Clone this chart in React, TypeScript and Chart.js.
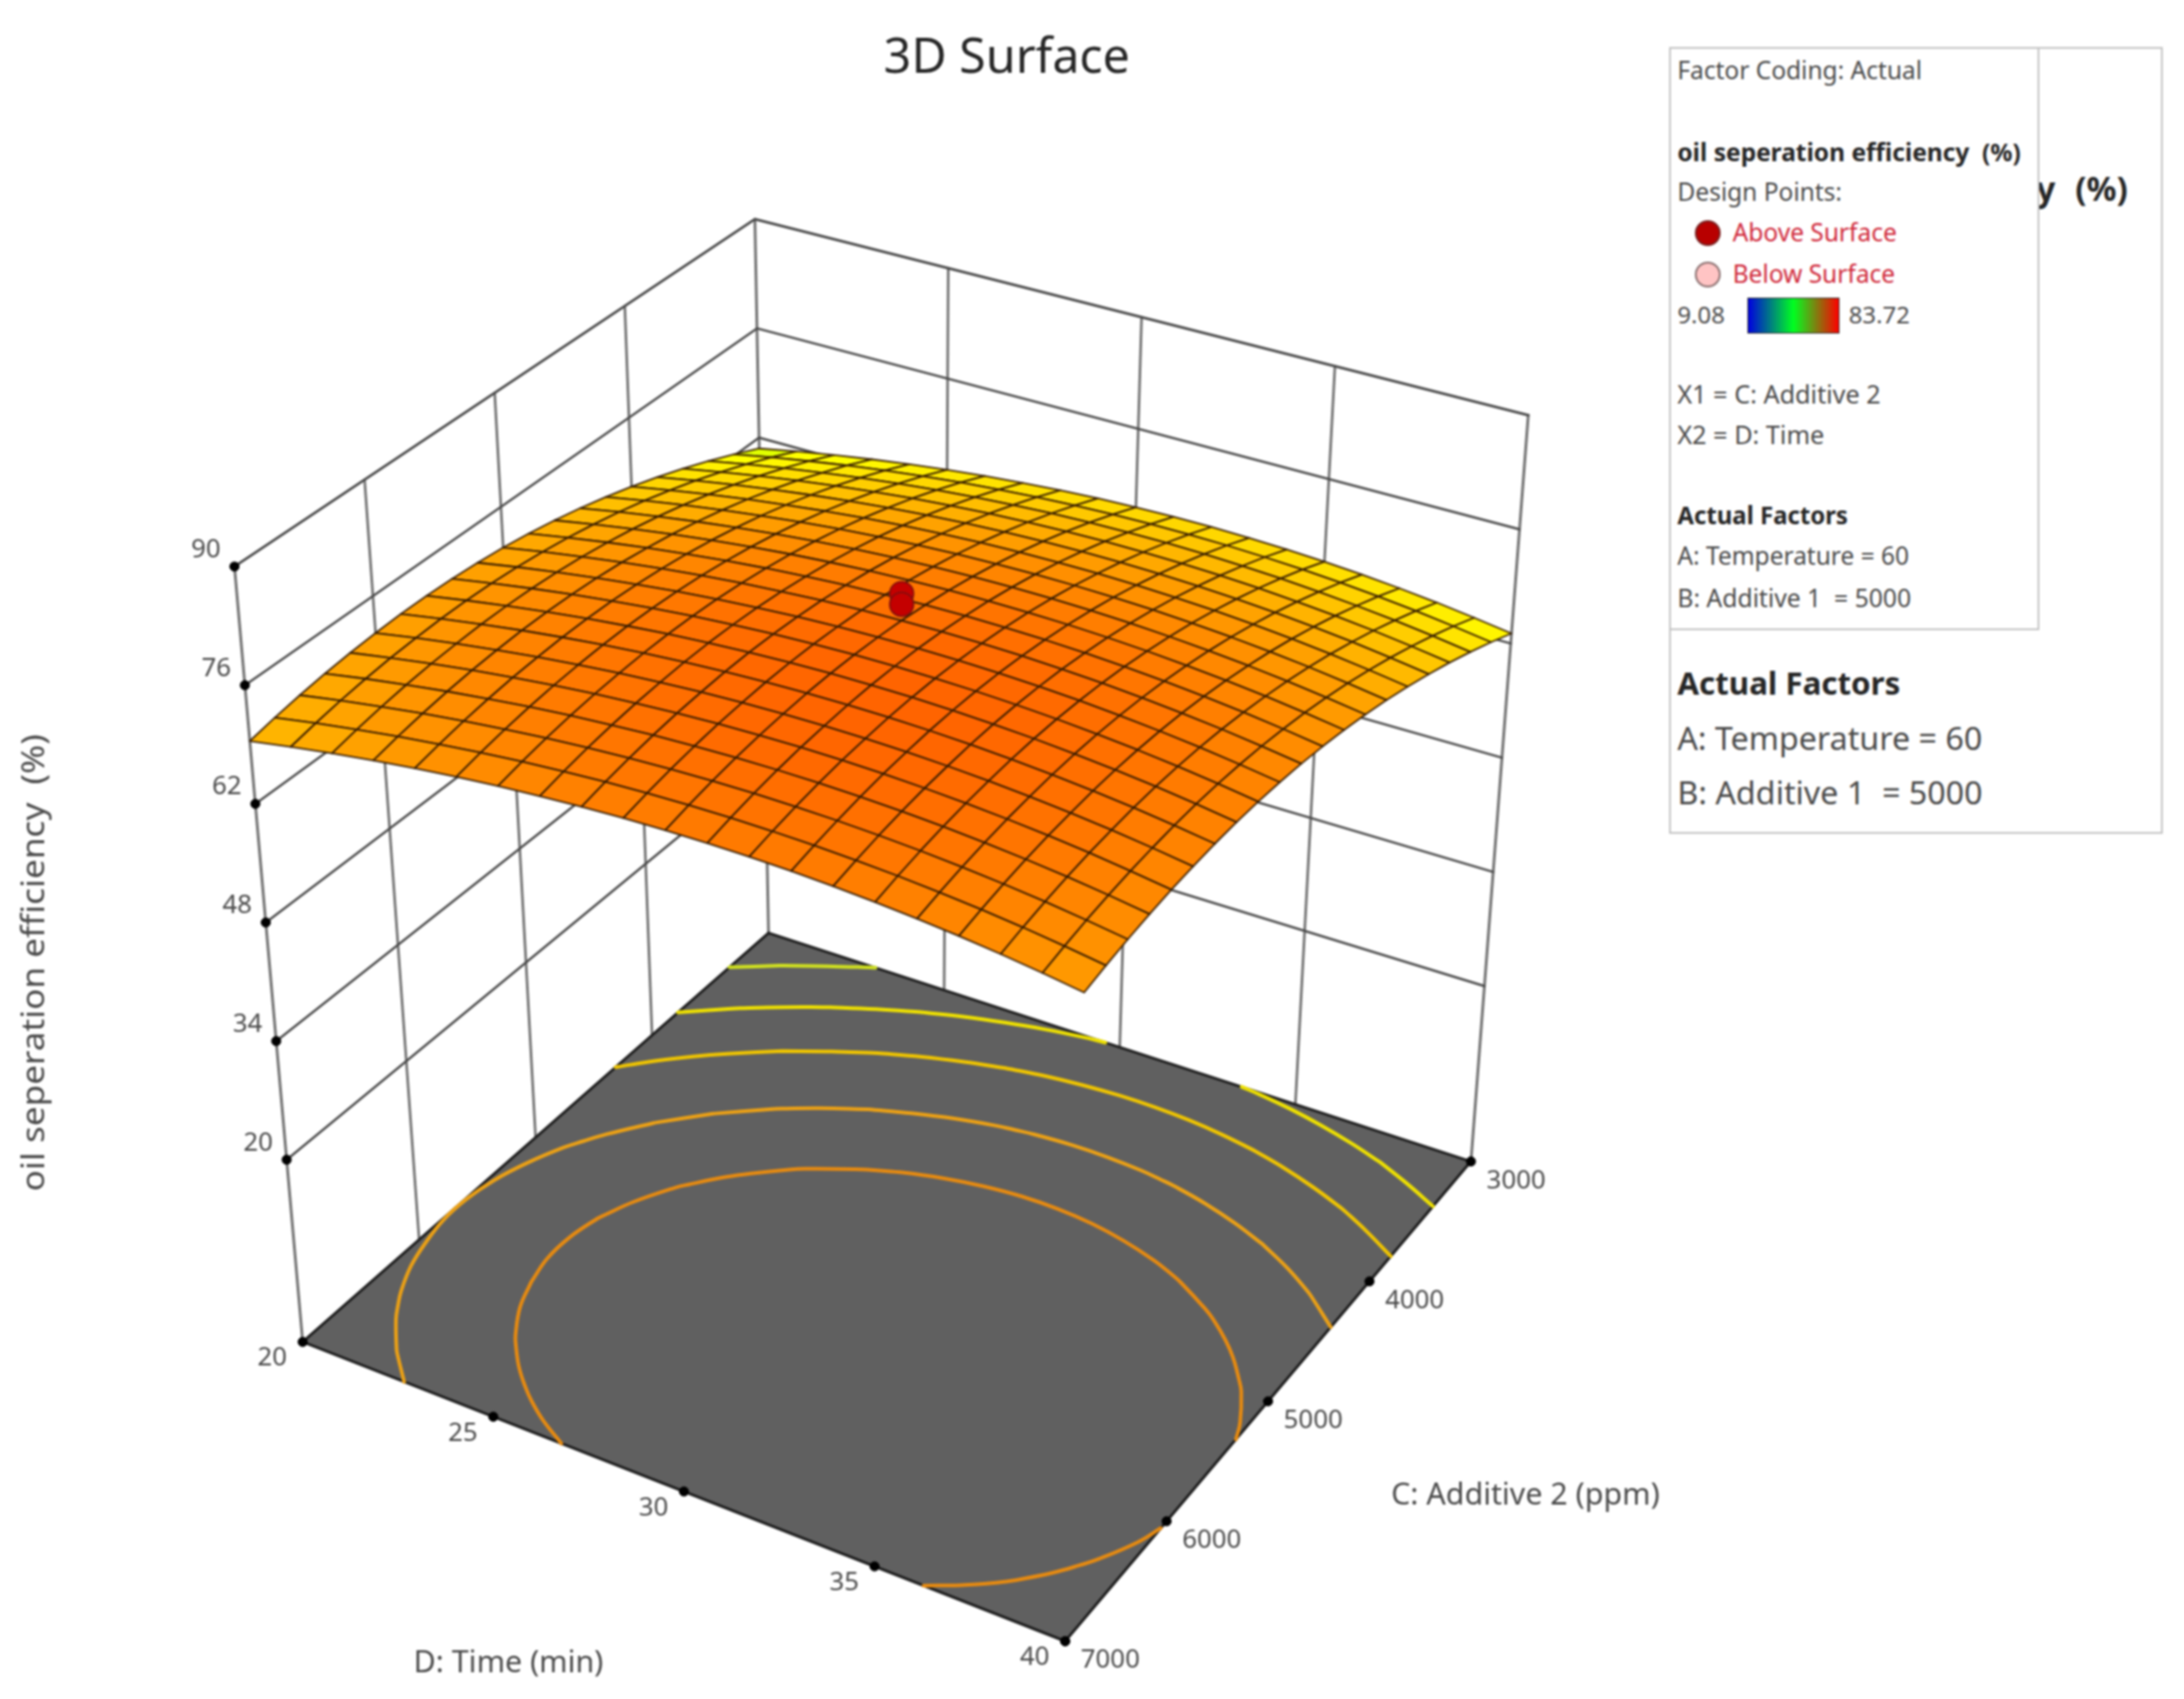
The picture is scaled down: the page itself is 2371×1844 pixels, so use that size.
import React, { useEffect, useRef } from "react";
import { Chart, registerables } from "chart.js";

Chart.register(...registerables);

const WIDTH = 2371;
const HEIGHT = 1844;
const FONT = '"Noto Sans", "Open Sans", sans-serif';

// ---------- data ----------
const timeValues = [20, 21, 22, 23, 24, 25, 26, 27, 28, 29, 30, 31, 32, 33, 34, 35, 36, 37, 38, 39, 40];
const additiveValues = [3000, 3200, 3400, 3600, 3800, 4000, 4200, 4400, 4600, 4800, 5000, 5200, 5400, 5600, 5800, 6000, 6200, 6400, 6600, 6800, 7000];
// one row per additive value, one column per time value
const surfaceZ = [
  [60.61,61.55,62.40,63.17,63.85,64.45,64.97,65.39,65.74,66.00,66.17,66.26,66.26,66.18,66.01,65.76,65.42,65.00,64.50,63.90,63.23],
  [62.21,63.15,64.00,64.77,65.45,66.05,66.57,66.99,67.34,67.60,67.77,67.86,67.86,67.78,67.61,67.36,67.02,66.60,66.10,65.50,64.83],
  [63.67,64.61,65.46,66.23,66.91,67.51,68.03,68.45,68.80,69.06,69.23,69.32,69.32,69.24,69.07,68.82,68.48,68.06,67.56,66.96,66.29],
  [65.02,65.96,66.81,67.58,68.26,68.86,69.38,69.80,70.15,70.41,70.58,70.67,70.67,70.59,70.42,70.17,69.83,69.41,68.91,68.31,67.64],
  [66.24,67.18,68.03,68.80,69.48,70.08,70.60,71.02,71.37,71.63,71.80,71.89,71.89,71.81,71.64,71.39,71.05,70.63,70.13,69.53,68.86],
  [67.34,68.28,69.13,69.90,70.58,71.18,71.70,72.12,72.47,72.73,72.90,72.99,72.99,72.91,72.74,72.49,72.15,71.73,71.23,70.63,69.96],
  [68.32,69.26,70.11,70.88,71.56,72.16,72.68,73.10,73.45,73.71,73.88,73.97,73.97,73.89,73.72,73.47,73.13,72.71,72.21,71.61,70.94],
  [69.17,70.11,70.96,71.73,72.41,73.01,73.53,73.95,74.30,74.56,74.73,74.82,74.82,74.74,74.57,74.32,73.98,73.56,73.06,72.46,71.79],
  [69.90,70.84,71.69,72.46,73.14,73.74,74.26,74.68,75.03,75.29,75.46,75.55,75.55,75.47,75.30,75.05,74.71,74.29,73.79,73.19,72.52],
  [70.50,71.44,72.29,73.06,73.74,74.34,74.86,75.28,75.63,75.89,76.06,76.15,76.15,76.07,75.90,75.65,75.31,74.89,74.39,73.79,73.12],
  [70.99,71.93,72.78,73.55,74.23,74.83,75.35,75.77,76.12,76.38,76.55,76.64,76.64,76.56,76.39,76.14,75.80,75.38,74.88,74.28,73.61],
  [71.34,72.28,73.13,73.90,74.58,75.18,75.70,76.12,76.47,76.73,76.90,76.99,76.99,76.91,76.74,76.49,76.15,75.73,75.23,74.63,73.96],
  [71.58,72.52,73.37,74.14,74.82,75.42,75.94,76.36,76.71,76.97,77.14,77.23,77.23,77.15,76.98,76.73,76.39,75.97,75.47,74.87,74.20],
  [71.69,72.63,73.48,74.25,74.93,75.53,76.05,76.47,76.82,77.08,77.25,77.34,77.34,77.26,77.09,76.84,76.50,76.08,75.58,74.98,74.31],
  [71.68,72.62,73.47,74.24,74.92,75.52,76.04,76.46,76.81,77.07,77.24,77.33,77.33,77.25,77.08,76.83,76.49,76.07,75.57,74.97,74.30],
  [71.54,72.48,73.33,74.10,74.78,75.38,75.90,76.32,76.67,76.93,77.10,77.19,77.19,77.11,76.94,76.69,76.35,75.93,75.43,74.83,74.16],
  [71.33,72.27,73.12,73.89,74.57,75.17,75.69,76.11,76.46,76.72,76.89,76.98,76.98,76.90,76.73,76.48,76.14,75.72,75.22,74.62,73.95],
  [71.00,71.94,72.79,73.56,74.24,74.84,75.36,75.78,76.13,76.39,76.56,76.65,76.65,76.57,76.40,76.15,75.81,75.39,74.89,74.29,73.62],
  [70.57,71.51,72.36,73.13,73.81,74.41,74.93,75.35,75.70,75.96,76.13,76.22,76.22,76.14,75.97,75.72,75.38,74.96,74.46,73.86,73.19],
  [70.04,70.98,71.83,72.60,73.28,73.88,74.40,74.82,75.17,75.43,75.60,75.69,75.69,75.61,75.44,75.19,74.85,74.43,73.93,73.33,72.66],
  [69.41,70.35,71.20,71.97,72.65,73.25,73.77,74.19,74.54,74.80,74.97,75.06,75.06,74.98,74.81,74.56,74.22,73.80,73.30,72.70,72.03],
];
const contourLevels = [63.2, 66.1, 68.8, 71.71, 74.1];
const contourColors = ["#cfe020", "#eee000", "#efc400", "#eba015", "#e68a10"];
const zTicks = [20, 34, 48, 62, 76, 90];
const timeTicks = [20, 25, 30, 35, 40];
const additiveTicks = [3000, 4000, 5000, 6000, 7000];
const designTimes = [30, 30];
const designAdditives = [5000, 5000];
const designZ = [79.8, 78.5];

// ---------- view of the box (pixel corners of its floor and lid) ----------
const Z_FLOOR = -1.5;
const Z_TOP = 90;
const floorCorners = { back: [830, 1014], right: [1602, 1266], front: [1156, 1795], left: [318, 1465] };
const lidCorners = { back: [815, 227], right: [1665, 443], front: [1182, 905], left: [243, 610] };

type Pt = { x: number; y: number };

function bilinear(c: typeof floorCorners, u: number, v: number, k: 0 | 1) {
  return (
    (1 - u) * (1 - v) * c.back[k] + u * (1 - v) * c.right[k] + u * v * c.front[k] + (1 - u) * v * c.left[k]
  );
}

function project(time: number, additive: number, z: number): Pt {
  const u = (time - 20) / 20;
  const v = (additive - 3000) / 4000;
  const w = (z - Z_FLOOR) / (Z_TOP - Z_FLOOR);
  return {
    x: bilinear(floorCorners, u, v, 0) * (1 - w) + bilinear(lidCorners, u, v, 0) * w,
    y: bilinear(floorCorners, u, v, 1) * (1 - w) + bilinear(lidCorners, u, v, 1) * w,
  };
}

function surfaceColor(z: number) {
  if (z < 62.5) {
    const r = Math.max(0, Math.round(255 - (62.5 - z) * 50));
    return `rgb(${r},255,0)`;
  }
  const g = Math.min(255, Math.max(0, Math.round(255 - ((z - 63.5) * 155) / 13.8)));
  return `rgb(255,${g},0)`;
}

function lineSet(data: Pt[], color: string, width: number, order: number, extra: object = {}) {
  return {
    type: "line" as const,
    data,
    borderColor: color,
    backgroundColor: color,
    borderWidth: width,
    pointRadius: 0,
    fill: false,
    order,
    borderCapStyle: "round",
    borderJoinStyle: "round",
    ...extra,
  };
}

// joins the short pieces of one contour level into ordered runs, split by gaps
function chainSegments(segs: [Pt, Pt][]): Pt[] {
  const key = (p: Pt) => `${p.x.toFixed(4)}_${p.y.toFixed(4)}`;
  const used = segs.map(() => false);
  const at = new Map<string, number[]>();
  segs.forEach((s, i) => {
    for (const p of s) {
      const k = key(p);
      at.set(k, [...(at.get(k) ?? []), i]);
    }
  });
  const extend = (run: Pt[]) => {
    for (;;) {
      const tail = run[run.length - 1];
      const next = (at.get(key(tail)) ?? []).find((i) => !used[i]);
      if (next === undefined) return;
      used[next] = true;
      const [a, b] = segs[next];
      run.push(key(a) === key(tail) ? b : a);
    }
  };
  const out: Pt[] = [];
  segs.forEach((s, i) => {
    if (used[i]) return;
    used[i] = true;
    const forward: Pt[] = [s[0], s[1]];
    extend(forward);
    const backward: Pt[] = [s[0]];
    extend(backward);
    out.push(...backward.reverse().slice(0, -1), ...forward, { x: NaN, y: NaN });
  });
  return out;
}

function buildDatasets() {
  const sets: any[] = [];
  const tMin = timeValues[0];
  const tMax = timeValues[timeValues.length - 1];
  const cMin = additiveValues[0];
  const cMax = additiveValues[additiveValues.length - 1];

  // walls
  const wallColor = "#484848";
  const uprightColor = "#707070";
  for (const z of zTicks) {
    sets.push(
      lineSet([project(tMin, cMax, z), project(tMin, cMin, z), project(tMax, cMin, z)], wallColor, z === 90 ? 2.8 : 2.4, 100000)
    );
  }
  for (const t of timeTicks.slice(1, -1)) {
    sets.push(lineSet([project(t, cMin, Z_FLOOR), project(t, cMin, Z_TOP)], uprightColor, 2.8, 100001));
  }
  for (const c of additiveTicks.slice(1, -1)) {
    sets.push(lineSet([project(tMin, c, Z_FLOOR), project(tMin, c, Z_TOP)], uprightColor, 2.8, 100001));
  }
  sets.push(lineSet([project(tMin, cMax, Z_FLOOR), project(tMin, cMax, Z_TOP)], uprightColor, 3, 100001));
  sets.push(lineSet([project(tMin, cMin, Z_FLOOR), project(tMin, cMin, Z_TOP)], uprightColor, 3, 100001));
  sets.push(lineSet([project(tMax, cMin, Z_FLOOR), project(tMax, cMin, Z_TOP)], uprightColor, 3, 100001));

  // floor
  sets.push(
    lineSet(
      [
        project(tMin, cMin, Z_FLOOR),
        project(tMax, cMin, Z_FLOOR),
        project(tMax, cMax, Z_FLOOR),
        project(tMin, cMax, Z_FLOOR),
        project(tMin, cMin, Z_FLOOR),
      ],
      "#1e1e1e",
      3,
      90000,
      { fill: "shape", backgroundColor: "#606060" }
    )
  );

  // contours on the floor, traced through the surface table
  contourLevels.forEach((level, idx) => {
    const segs: [Pt, Pt][] = [];
    const cross = (a: number, b: number) => (level - a) / (b - a);
    for (let j = 0; j < surfaceZ.length - 1; j++) {
      for (let i = 0; i < timeValues.length - 1; i++) {
        const z00 = surfaceZ[j][i];
        const z10 = surfaceZ[j][i + 1];
        const z01 = surfaceZ[j + 1][i];
        const z11 = surfaceZ[j + 1][i + 1];
        const hits: Pt[] = [];
        const t0 = timeValues[i];
        const t1 = timeValues[i + 1];
        const c0 = additiveValues[j];
        const c1 = additiveValues[j + 1];
        if (z00 < level !== z10 < level) hits.push(project(t0 + (t1 - t0) * cross(z00, z10), c0, Z_FLOOR));
        if (z10 < level !== z11 < level) hits.push(project(t1, c0 + (c1 - c0) * cross(z10, z11), Z_FLOOR));
        if (z01 < level !== z11 < level) hits.push(project(t0 + (t1 - t0) * cross(z01, z11), c1, Z_FLOOR));
        if (z00 < level !== z01 < level) hits.push(project(t0, c0 + (c1 - c0) * cross(z00, z01), Z_FLOOR));
        if (hits.length >= 2) segs.push([hits[0], hits[1]]);
      }
    }
    sets.push(lineSet(chainSegments(segs), contourColors[idx], 4, 80000 + idx, { spanGaps: false, tension: 0.4 }));
  });

  // surface cells, painted from the back corner to the front corner
  for (let j = 0; j < surfaceZ.length - 1; j++) {
    for (let i = 0; i < timeValues.length - 1; i++) {
      const z00 = surfaceZ[j][i];
      const z10 = surfaceZ[j][i + 1];
      const z11 = surfaceZ[j + 1][i + 1];
      const z01 = surfaceZ[j + 1][i];
      const a = project(timeValues[i], additiveValues[j], z00);
      const b = project(timeValues[i + 1], additiveValues[j], z10);
      const c = project(timeValues[i + 1], additiveValues[j + 1], z11);
      const d = project(timeValues[i], additiveValues[j + 1], z01);
      sets.push(
        lineSet([a, b, c, d, a], "rgba(50,25,0,0.95)", 1.8, 5000 - (i + j), {
          fill: "shape",
          backgroundColor: surfaceColor((z00 + z10 + z11 + z01) / 4),
        })
      );
    }
  }

  // design points
  sets.push({
    type: "line" as const,
    data: designZ.map((z, k) => project(designTimes[k], designAdditives[k], z)),
    showLine: false,
    pointRadius: 13,
    pointBackgroundColor: "#c40000",
    pointBorderColor: "#7a1010",
    pointBorderWidth: 1.5,
    order: 1,
  });

  // axis tick marks
  const tickPoints = [
    ...zTicks.map((z) => project(tMin, cMax, z)),
    ...timeTicks.map((t) => project(t, cMax, Z_FLOOR)),
    ...additiveTicks.map((c) => project(tMax, c, Z_FLOOR)),
  ];
  sets.push({
    type: "line" as const,
    data: tickPoints,
    showLine: false,
    pointRadius: 5,
    pointBackgroundColor: "#000",
    pointBorderColor: "#000",
    order: 0,
  });
  return sets;
}

const labelsPlugin = {
  id: "boxLabels",
  afterDraw(chart: any) {
    const { ctx, scales } = chart;
    const tMin = timeValues[0];
    const tMax = timeValues[timeValues.length - 1];
    const cMax = additiveValues[additiveValues.length - 1];
    const put = (text: string, p: Pt, dx: number, dy: number) => {
      ctx.fillText(text, scales.x.getPixelForValue(p.x) + dx, scales.y.getPixelForValue(p.y) + dy);
    };
    ctx.save();
    ctx.textAlign = "center";
    ctx.textBaseline = "middle";
    ctx.fillStyle = "#4a4a4a";
    ctx.font = `28px ${FONT}`;
    zTicks.forEach((z) => put(String(z), project(tMin, cMax, z), -31, -18));
    timeTicks.forEach((t) => put(String(t), project(t, cMax, Z_FLOOR), -33, 18));
    additiveTicks.forEach((c) => put(String(c), project(tMax, c, Z_FLOOR), 49, 21));
    ctx.font = `33px ${FONT}`;
    ctx.fillText("D: Time (min)", 552, 1806);
    ctx.fillText("C: Additive 2 (ppm)", 1656, 1624);
    ctx.save();
    ctx.translate(38, 1045);
    ctx.rotate(-Math.PI / 2);
    ctx.scale(1.12, 1);
    ctx.font = `34px ${FONT}`;
    ctx.fillText("oil seperation efficiency  (%)", 0, 0);
    ctx.restore();
    ctx.fillStyle = "#262626";
    ctx.font = `52.5px ${FONT}`;
    ctx.fillText("3D Surface", 1093, 64);
    ctx.restore();
  },
};

function Txt(props: { x: number; y: number; size: number; bold?: boolean; color?: string; children: string }) {
  const { x, y, size, bold, color, children } = props;
  return (
    <div
      style={{
        position: "absolute",
        left: x,
        top: y,
        transform: "translateY(-50%)",
        fontFamily: FONT,
        fontSize: size,
        fontWeight: bold ? 700 : 400,
        color: color ?? "#4a4a4a",
        whiteSpace: "pre",
        lineHeight: 1,
      }}
    >
      {children}
    </div>
  );
}

function Legend() {
  const box = (l: number, t: number, r: number, b: number): React.CSSProperties => ({
    position: "absolute",
    left: l,
    top: t,
    width: r - l,
    height: b - t,
    boxSizing: "border-box",
    border: "2.5px solid #c4c4c4",
    background: "#fff",
  });
  const dot = (x: number, y: number, bg: string, bd: string): React.CSSProperties => ({
    position: "absolute",
    left: x - 14,
    top: y - 14,
    width: 28,
    height: 28,
    boxSizing: "border-box",
    borderRadius: "50%",
    background: bg,
    border: `2.5px solid ${bd}`,
  });
  return (
    <>
      <div style={box(1812, 51, 2348, 905)} />
      <div style={{ position: "absolute", left: 1820, top: 170, width: 500, height: 70, overflow: "hidden" }}>
        <div
          style={{
            position: "absolute",
            right: 10,
            top: 35,
            transform: "translateY(-50%)",
            fontFamily: FONT,
            fontSize: 36,
            fontWeight: 700,
            color: "#262626",
            whiteSpace: "pre",
            lineHeight: 1,
            wordSpacing: 1.5,
          }}
        >
          {"oil seperation efficiency  (%)"}
        </div>
      </div>
      <Txt x={1821} y={741} size={34} bold color="#262626">
        Actual Factors
      </Txt>
      <Txt x={1821} y={800} size={35}>
        A: Temperature = 60
      </Txt>
      <Txt x={1821} y={859} size={35}>
        {"B: Additive 1  = 5000"}
      </Txt>
      <div style={box(1812, 51, 2214, 684)} />
      <Txt x={1821} y={76} size={26.6}>
        Factor Coding: Actual
      </Txt>
      <Txt x={1821} y={165} size={26.6} bold color="#262626">
        {"oil seperation efficiency  (%)"}
      </Txt>
      <Txt x={1821} y={208} size={26.6}>
        Design Points:
      </Txt>
      <div style={dot(1854, 253, "#b80000", "#7a2020")} />
      <Txt x={1881} y={252} size={26.6} color="#d0283a">
        Above Surface
      </Txt>
      <div style={dot(1854, 298, "#ffc4c4", "#8a7070")} />
      <Txt x={1881} y={297} size={26.6} color="#d0283a">
        Below Surface
      </Txt>
      <Txt x={1821} y={341} size={26}>
        9.08
      </Txt>
      <div
        style={{
          position: "absolute",
          left: 1897,
          top: 323,
          width: 100,
          height: 39,
          boxSizing: "border-box",
          border: "1.5px solid #333",
          background: "linear-gradient(90deg,#0000e0,#00ff20 50%,#ff0000)",
        }}
      />
      <Txt x={2007} y={341} size={26}>
        83.72
      </Txt>
      <Txt x={1821} y={428} size={27.4}>
        X1 = C: Additive 2
      </Txt>
      <Txt x={1821} y={472} size={27.4}>
        X2 = D: Time
      </Txt>
      <Txt x={1821} y={559} size={26} bold color="#262626">
        Actual Factors
      </Txt>
      <Txt x={1821} y={603} size={26.6}>
        A: Temperature = 60
      </Txt>
      <Txt x={1821} y={649} size={26.8}>
        {"B: Additive 1  = 5000"}
      </Txt>
    </>
  );
}

export default function App() {
  const ref = useRef<HTMLCanvasElement>(null);
  useEffect(() => {
    if (!ref.current) return;
    const chart = new Chart(ref.current, {
      type: "line",
      data: { datasets: buildDatasets() },
      options: {
        responsive: false,
        animation: false,
        parsing: { xAxisKey: "x", yAxisKey: "y" },
        layout: { padding: 0 },
        elements: { line: { tension: 0 } },
        events: [],
        scales: {
          x: { type: "linear", min: 0, max: WIDTH, display: false },
          y: { type: "linear", min: 0, max: HEIGHT, reverse: true, display: false },
        },
        plugins: { legend: { display: false }, tooltip: { enabled: false }, title: { display: false } },
      },
      plugins: [labelsPlugin],
    } as any);
    return () => chart.destroy();
  }, []);
  return (
    <div
      style={{
        position: "absolute",
        left: 0,
        top: 0,
        width: WIDTH,
        height: HEIGHT,
        overflow: "hidden",
        background: "#fff",
        filter: "blur(1.1px)",
      }}
    >
      <canvas ref={ref} width={WIDTH} height={HEIGHT} style={{ display: "block", position: "absolute", left: 0, top: 0 }} />
      <Legend />
    </div>
  );
}
